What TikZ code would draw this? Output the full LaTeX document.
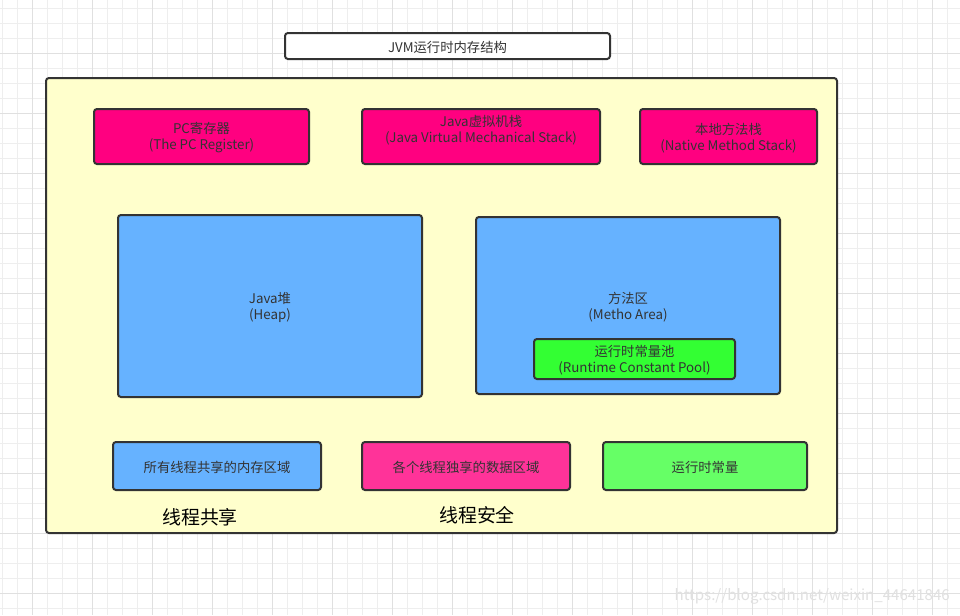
\documentclass[tikz,border=0pt]{standalone}
\usepackage{fontspec}
\setmainfont{Noto Sans CJK SC}
\begin{document}
\begin{tikzpicture}[x=0.75pt,y=-0.75pt,
  box/.style={draw=boxline,line width=1.5pt,rounded corners=2.2pt,text=txt,font=\fontsize{10}{12}\selectfont,align=center,inner sep=0pt},
  lbl/.style={text=txt,font=\fontsize{10}{12}\selectfont,align=center,inner sep=0pt},
  legendtxt/.style={font=\fontsize{14.2}{16}\selectfont,text=black}]
\definecolor{boxline}{HTML}{333333}
\definecolor{txt}{HTML}{333333}
\definecolor{gridminor}{HTML}{EEEEEE}
\definecolor{gridmajor}{HTML}{E0E0E0}
\definecolor{yel}{HTML}{FFFFCC}
\definecolor{pinkA}{HTML}{FF0080}
\definecolor{blueA}{HTML}{66B2FF}
\definecolor{greenA}{HTML}{33FF33}
\definecolor{pinkB}{HTML}{FF3399}
\definecolor{greenB}{HTML}{66FF66}
\useasboundingbox (0,0) rectangle (960,615);
\fill[white] (0,0) rectangle (960,615);
% grid
\foreach \i in {0,...,64} {\draw[gridminor,line width=0.75pt] ({2.3+15*\i},0) -- ({2.3+15*\i},615);}
\foreach \j in {0,...,41} {\draw[gridminor,line width=0.75pt] (0,{8.3+15*\j}) -- (960,{8.3+15*\j});}
\foreach \i in {0,...,15} {\draw[gridmajor,line width=0.75pt] ({32.3+60*\i},0) -- ({32.3+60*\i},615);}
\foreach \j in {-1,...,10} {\draw[gridmajor,line width=0.75pt] (0,{53.3+60*\j}) -- (960,{53.3+60*\j});}
% title
\node[box,fill=white,minimum width=325*0.75pt,minimum height=26*0.75pt] (title) at (447.5,46) {};
\node[lbl] (titlet) at (447.5,47) {JVM运行时内存结构};
% outer
\node[box,fill=yel,minimum width=791*0.75pt,minimum height=455*0.75pt] (outer) at (441.5,305.5) {};
% top row
\node[box,fill=pinkA,minimum width=215*0.75pt,minimum height=55*0.75pt] (pc) at (201.5,136.5) {};
\node[lbl] (pct) at (201.5,138) {PC寄存器\\(The PC Register)};
\node[box,fill=pinkA,minimum width=238*0.75pt,minimum height=55*0.75pt] (jvms) at (481,136.5) {};
\node[lbl] (jvmst) at (481,130) {Java虚拟机栈\\(Java Virtual Mechanical Stack)};
\node[box,fill=pinkA,minimum width=177*0.75pt,minimum height=55*0.75pt] (native) at (728.5,136.5) {};
\node[lbl] (nativet) at (728.5,138) {本地方法栈\\(Native Method Stack)};
% middle
\node[box,fill=blueA,minimum width=304*0.75pt,minimum height=182*0.75pt] (heap) at (270,306) {};
\node[lbl] (heapt) at (270,307) {Java堆\\(Heap)};
\node[box,fill=blueA,minimum width=304*0.75pt,minimum height=177*0.75pt] (method) at (628,305.5) {};
\node[lbl] (methodt) at (628,307) {方法区\\(Metho Area)};
\node[box,fill=greenA,minimum width=201*0.75pt,minimum height=40*0.75pt] (pool) at (634.5,359) {};
\node[lbl] (poolt) at (634.5,360.5) {运行时常量池\\(Runtime Constant Pool)};
% legend
\node[box,fill=blueA,minimum width=208*0.75pt,minimum height=48*0.75pt] (l1) at (217,466) {};
\node[lbl] (l1t) at (217,467) {所有线程共享的内存区域};
\node[box,fill=pinkB,minimum width=208*0.75pt,minimum height=48*0.75pt] (l2) at (466,466) {};
\node[lbl] (l2t) at (466,467) {各个线程独享的数据区域};
\node[box,fill=greenB,minimum width=204*0.75pt,minimum height=48*0.75pt] (l3) at (705,466) {};
\node[lbl] (l3t) at (705,467) {运行时常量};
\node[legendtxt] (shared) at (200,517) {线程共享};
\node[legendtxt] (safe) at (477,515) {线程安全};
% watermark
\node[text=black!12,font=\fontsize{11.3}{13}\selectfont,anchor=east,inner sep=0pt] (wm) at (950,596) {https://blog.csdn.net/weixin\_44641846};
\end{tikzpicture}
\end{document}
